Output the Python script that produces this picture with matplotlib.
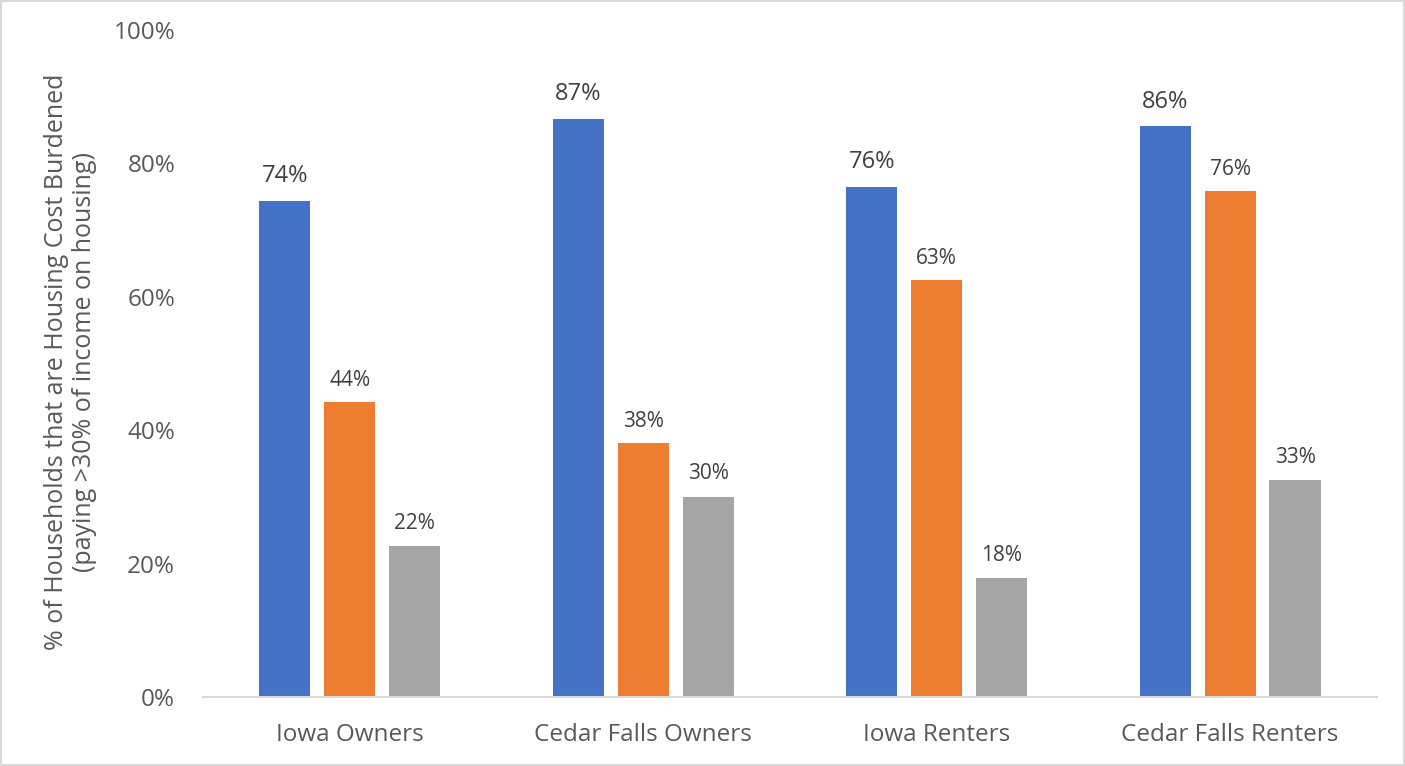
import matplotlib
matplotlib.use("Agg")
import matplotlib.pyplot as plt
from matplotlib.patches import Rectangle
import numpy as np

plt.rcParams['font.family'] = ['Open Sans', 'DejaVu Sans']

categories = ['Iowa Owners', 'Cedar Falls Owners', 'Iowa Renters', 'Cedar Falls Renters']
series_a = [74.4, 86.7, 76.5, 85.6]
series_b = [44.2, 38.1, 62.5, 75.8]
series_c = [22.6, 30.0, 17.8, 32.5]
labels_a = ['74%', '87%', '76%', '86%']
labels_b = ['44%', '38%', '63%', '76%']
labels_c = ['22%', '30%', '18%', '33%']

colors = ['#4472C4', '#ED7D31', '#A5A5A5']
text_col = '#595959'

fig = plt.figure(figsize=(14.05, 7.66), dpi=100)
ax = fig.add_axes([0.1445, 0.0901, 0.8355, 0.8707])

x = np.arange(len(categories))
w = 0.174
step = 0.221

bars_a = ax.bar(x - step, series_a, w, color=colors[0])
bars_b = ax.bar(x, series_b, w, color=colors[1])
bars_c = ax.bar(x + step, series_c, w, color=colors[2])

# blue labels are drawn a bit larger than the others
for bars, labs, size, off in [(bars_a, labels_a, 17, 9), (bars_b, labels_b, 15, 8), (bars_c, labels_c, 15, 9)]:
    for b, lab in zip(bars, labs):
        ax.annotate(lab, (b.get_x() + b.get_width() / 2, b.get_height()),
                    xytext=(0, off), textcoords='offset points',
                    ha='center', va='bottom', fontsize=size, color='#404040')

ax.set_xlim(-0.5, 3.5)
ax.set_ylim(0, 100)
ax.set_yticks([0, 20, 40, 60, 80, 100])
ax.set_yticklabels(['0%', '20%', '40%', '60%', '80%', '100%'])
ax.set_xticks(x)
ax.set_xticklabels(categories)
ax.tick_params(axis='both', length=0, labelsize=17.5, colors=text_col)
ax.tick_params(axis='y', pad=20)
ax.tick_params(axis='x', pad=19)

for s in ['top', 'right', 'left']:
    ax.spines[s].set_visible(False)
ax.spines['bottom'].set_color('#D9D9D9')
ax.spines['bottom'].set_linewidth(1.5)

ax.set_ylabel('% of Households that are Housing Cost Burdened\n(paying >30% of income on housing)',
              fontsize=18, color=text_col, linespacing=1.2)
ax.yaxis.set_label_coords(-0.09, 0.502)

fig.patches.append(Rectangle((0.001, 0.001), 0.998, 0.998, transform=fig.transFigure,
                             fill=False, edgecolor='#D9D9D9', linewidth=1.5))

fig.savefig('out.png', dpi=100)
